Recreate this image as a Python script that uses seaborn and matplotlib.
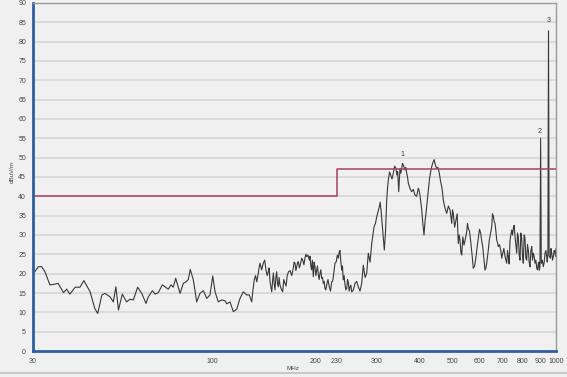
import numpy as np
import pandas as pd
import matplotlib
matplotlib.use("Agg")
import matplotlib.pyplot as plt
from matplotlib.ticker import FixedLocator, NullFormatter, MultipleLocator
import seaborn as sns

# scan trace (MHz, dBuV/m)
freq = [30.0, 31.1, 31.8, 32.5, 33.6, 34.8, 35.5, 36.8, 37.6, 38.4, 39.8, 41.1, 42.2, 44.0, 45.4,
        46.3, 47.6, 48.6, 50.3, 51.4, 52.3, 53.2, 54.6, 56.2, 57.5, 58.8, 60.5, 62.2, 64.0, 65.0,
        66.8, 68.0, 69.5, 71.4, 72.7, 74.3, 75.7, 76.8, 78.1, 80.4, 82.2, 83.7, 85.0, 86.1, 87.9,
        89.9, 91.9, 94.0, 96.2, 98.3, 100.1, 101.7, 103.9, 106.3, 108.7, 110.0, 112.4, 114.9, 117.6,
        120.2, 122.9, 125.7, 127.9, 130.0, 132.3, 134.5, 135.9, 137.4, 140.5, 143.1, 145.3, 147.0,
        148.7, 150.3, 152.0, 153.7, 155.4, 157.1, 160.0, 162.5, 165.0, 168.1, 171.8, 173.8, 175.8,
        177.7, 180.5, 183.0, 185.9, 188.0, 191.3, 193.1, 195.2, 196.5, 198.7, 201.0, 203.2, 205.5,
        207.8, 210.1, 212.5, 214.9, 218.7, 222.3, 224.7, 227.2, 230.8, 233.9, 236.1, 237.7, 240.2,
        243.0, 245.8, 248.4, 251.3, 254.2, 259.9, 265.7, 271.8, 274.7, 281.1, 284.1, 290.7, 295.2,
        300.6, 305.9, 309.4, 312.9, 316.3, 321.4, 324.9, 330.2, 336.0, 342.1, 346.0, 348.3, 351.4,
        355.4, 359.2, 363.4, 367.5, 371.5, 380.0, 388.5, 397.2, 401.8, 406.4, 412.7, 418.3, 424.8,
        431.7, 439.3, 444.3, 449.4, 457.3, 464.8, 469.8, 480.6, 491.3, 497.0, 502.3, 511.5, 519.4,
        525.4, 531.4, 539.7, 549.5, 555.4, 564.5, 574.4, 584.9, 594.0, 603.6, 611.8, 621.3, 628.4,
        639.5, 649.8, 656.9, 664.4, 672.0, 679.3, 690.3, 699.6, 710.5, 718.6, 726.4, 734.7, 743.1,
        751.1, 759.8, 768.5, 776.7, 785.6, 794.6, 803.2, 812.4, 821.7, 830.6, 840.1, 849.8, 858.9,
        868.8, 878.7, 888.2, 894.2, 898.0, 902.0, 906.0, 918.5, 929.0, 939.7, 947.0, 951.0, 955.0,
        971.7, 982.2, 993.5, 1000.0]
level = [19.9, 21.8, 21.8, 20.5, 17.1, 17.3, 17.5, 15.1, 16.0, 14.7, 16.5, 16.5, 18.2, 15.3, 11.0,
         9.7, 14.5, 14.9, 14.0, 12.7, 16.6, 10.6, 14.7, 12.7, 13.4, 13.2, 16.5, 14.9, 12.3, 14.0,
         15.6, 14.7, 15.1, 17.1, 16.6, 16.0, 17.1, 16.5, 18.8, 14.9, 17.5, 17.9, 18.5, 21.1, 18.4,
         12.7, 14.9, 15.6, 13.6, 14.5, 19.4, 15.3, 12.7, 13.2, 13.0, 12.2, 12.7, 10.2, 10.8,
         13.6, 15.3, 14.5, 14.5, 12.7, 18.5, 17.9, 20.1, 22.7, 22.7, 20.9, 20.5, 17.9,
         15.3, 20.2, 15.8, 20.5, 16.6, 17.1, 15.3, 17.5, 19.6, 20.8, 21.4, 22.7, 21.8,
         23.1, 22.7, 23.5, 24.2, 24.4, 23.5, 22.2, 23.5, 19.2, 21.8, 20.9, 19.7, 20.1,
         18.8, 17.5, 16.2, 17.1, 16.6, 17.9, 19.2, 22.7, 24.8, 25.7, 23.5, 20.9, 18.4,
         17.1, 16.2, 17.9, 16.6, 15.3, 17.5, 16.6, 17.5, 22.2, 20.1, 25.3, 27.8, 32.1,
         34.7, 37.3, 36.5, 31.3, 26.1, 39.0, 44.2, 45.5, 46.0, 47.2, 46.4, 41.2, 47.2,
         47.2, 48.1, 46.8, 46.0, 43.4, 41.2, 40.3, 42.1, 40.3, 36.5, 30.0, 35.6, 41.6,
         46.4, 49.0, 48.5, 47.2, 46.0, 42.5, 39.0, 35.6, 36.5, 33.0, 35.6, 33.9, 27.8,
         28.7, 24.8, 27.4, 30.8, 31.7, 28.3, 21.4, 24.4, 29.1, 30.4, 27.0, 20.9, 22.7,
         28.7, 32.1, 34.9, 33.0, 28.7, 27.0, 26.1, 25.3, 24.4, 22.7, 24.4, 28.7, 31.3,
         31.7, 29.6, 25.3, 29.6, 23.5, 29.1, 22.7, 29.1, 23.5, 26.1, 21.8, 27.0, 25.3,
         22.7, 21.4, 22.7, 20.9, 21.8, 55.0, 22.7, 21.8, 25.3, 24.4, 25.3, 82.8, 24.6,
         25.3, 24.4, 25.7, 26.5]

# extra ripple points from the dense part of the sweep
ripple_freq = [131.2, 133.4, 136.6, 139.0, 141.8, 144.2, 146.1, 149.5, 151.1, 152.8, 154.5, 156.2,
               158.5, 161.2, 163.7, 166.5, 170.0, 172.8, 174.8, 176.8, 179.0, 181.8, 184.5, 187.0,
               189.6, 192.2, 194.2, 197.6, 199.8, 202.0, 204.3, 206.6, 209.0, 211.3, 213.7, 216.8,
               220.5, 223.5, 226.0, 229.0, 232.3, 235.0, 238.9, 241.6, 244.4, 247.1, 249.8, 252.7,
               257.0, 262.8, 268.7, 278.0, 287.5, 293.0, 298.0, 303.2, 307.6, 311.0, 318.9, 323.1,
               327.5, 333.0, 339.0, 344.0, 353.4, 357.3, 361.3, 365.4, 369.5, 375.8, 384.2, 392.8,
               399.5, 409.5, 415.5, 421.5, 428.2, 435.5, 441.8, 446.8, 453.3, 461.0, 467.3, 475.0,
               486.0, 494.0, 499.6, 506.8, 515.5, 522.5, 528.4, 535.5, 544.6, 552.4, 559.9, 569.5,
               579.6, 589.5, 598.8, 607.7, 616.5, 625.0, 634.0, 644.7, 653.3, 660.6, 668.2, 675.6,
               684.8, 695.0, 705.0, 714.5, 722.5, 730.5, 738.9, 747.1, 755.4, 764.1, 772.6, 781.1,
               790.1, 798.9, 807.8, 817.0, 826.1, 835.3, 845.0, 854.3, 863.8, 873.7, 883.4, 891.2,
               912.5, 924.0, 934.3, 943.0, 963.0, 967.0, 977.0, 988.0, 997.0]
ripple_level = [16.0, 19.5, 21.5, 21.0, 23.5, 19.5, 21.5, 18.0, 17.5, 19.0, 17.5, 19.0,
                16.0, 18.5, 16.8, 20.5, 19.5, 23.0, 20.8, 22.8, 21.5, 24.0, 22.3, 25.0,
                24.8, 24.5, 21.0, 23.0, 19.5, 22.0, 18.5, 21.0, 19.0, 18.0, 15.8, 18.5,
                15.5, 18.0, 21.0, 23.0, 24.0, 26.0, 22.0, 19.5, 15.8, 18.5, 15.5, 17.0,
                15.8, 18.0, 15.5, 19.0, 23.0, 30.0, 33.0, 36.0, 38.5, 34.0, 31.0, 42.0,
                46.3, 44.5, 47.8, 45.5, 46.0, 48.5, 47.5, 47.5, 45.0, 42.0, 41.8, 40.0,
                41.5, 33.0, 33.5, 38.5, 44.5, 48.0, 49.5, 47.8, 47.5, 44.0, 41.0, 37.0,
                37.5, 35.0, 36.5, 32.0, 35.5, 30.0, 25.5, 29.5, 29.0, 33.0, 31.0, 25.0,
                22.0, 27.0, 31.5, 28.5, 24.0, 21.5, 25.5, 30.5, 35.5, 33.5, 31.0, 28.0,
                27.5, 24.0, 26.5, 23.5, 26.0, 22.5, 30.0, 30.0, 32.5, 27.5, 30.5, 25.0,
                30.5, 24.5, 30.0, 24.0, 27.5, 23.0, 26.0, 23.5, 24.5, 23.5, 21.0, 23.0,
                23.5, 23.0, 26.0, 23.0, 24.0, 26.5, 23.5, 26.0, 24.5]

# limit line
limit_freq = [30, 230, 230, 1000]
limit_level = [40, 40, 47, 47]

# markers
marker_labels = ["1", "2", "3"]
marker_freq = [357, 894, 955]
marker_level = [50.9, 56.7, 85.4]

x_ticks = [30, 100, 200, 230, 300, 400, 500, 600, 700, 800, 900, 1000]
y_ticks = list(range(0, 91, 5))

sns.set_style("white")
plt.rcParams['font.family'] = ['Liberation Sans', 'DejaVu Sans']
bg = "#f0f0f0"

fig = plt.figure(figsize=(5.67, 3.77), dpi=100, facecolor=bg)
ax = fig.add_axes([33 / 567, 1 - 351 / 377, (556 - 33) / 567, (351 - 3) / 377])
ax.set_facecolor(bg)

df = pd.DataFrame({"freq": freq + ripple_freq, "level": level + ripple_level})
df = df.sort_values("freq")
sns.lineplot(data=df, x="freq", y="level", ax=ax, color="#383838", lw=0.8,
             estimator=None, sort=False)
lim = pd.DataFrame({"freq": limit_freq, "level": limit_level})
sns.lineplot(data=lim, x="freq", y="level", ax=ax, color="#a8405f", lw=1.1,
             estimator=None, sort=False)

for lab, mf, ml in zip(marker_labels, marker_freq, marker_level):
    ax.text(mf, ml, lab, fontsize=5, color="#333333", ha="center", va="center")

ax.set_xscale("log")
ax.set_xlim(30, 1000)
ax.set_ylim(0, 90)
ax.xaxis.set_major_locator(FixedLocator(x_ticks))
ax.xaxis.set_minor_locator(FixedLocator([]))
ax.set_xticklabels([str(t) for t in x_ticks])
ax.set_yticks(y_ticks)
ax.yaxis.set_minor_locator(MultipleLocator(1))
ax.yaxis.set_minor_formatter(NullFormatter())
ax.grid(axis="y", color="#d6d6d6", lw=1.2)
ax.grid(axis="x", visible=False)
ax.set_axisbelow(True)

ax.tick_params(axis="both", which="major", labelsize=5, colors="#444444", length=3,
               width=0.6, direction="out", pad=2)
ax.tick_params(axis="y", which="minor", length=1.5, width=0.5, colors="#444444")

for side in ["left", "bottom"]:
    ax.spines[side].set_color("#2f5f9f")
    ax.spines[side].set_linewidth(2)
for side in ["top", "right"]:
    ax.spines[side].set_color("#9a9a9a")
    ax.spines[side].set_linewidth(1)

ax.set_xlabel("")
ax.set_ylabel("")
fig.text(12 / 567, 1 - 172 / 377, "dBuV/m", rotation=90, fontsize=4.5, color="#444444",
         ha="center", va="center")
fig.text(293 / 567, 1 - 368 / 377, "MHz", fontsize=4.5, color="#444444",
         ha="center", va="center")
fig.add_artist(plt.Line2D([0, 1], [1 - 373 / 377] * 2, color="#c8c8c8", lw=1.5))

fig.savefig("out.png", dpi=100, facecolor=bg)
